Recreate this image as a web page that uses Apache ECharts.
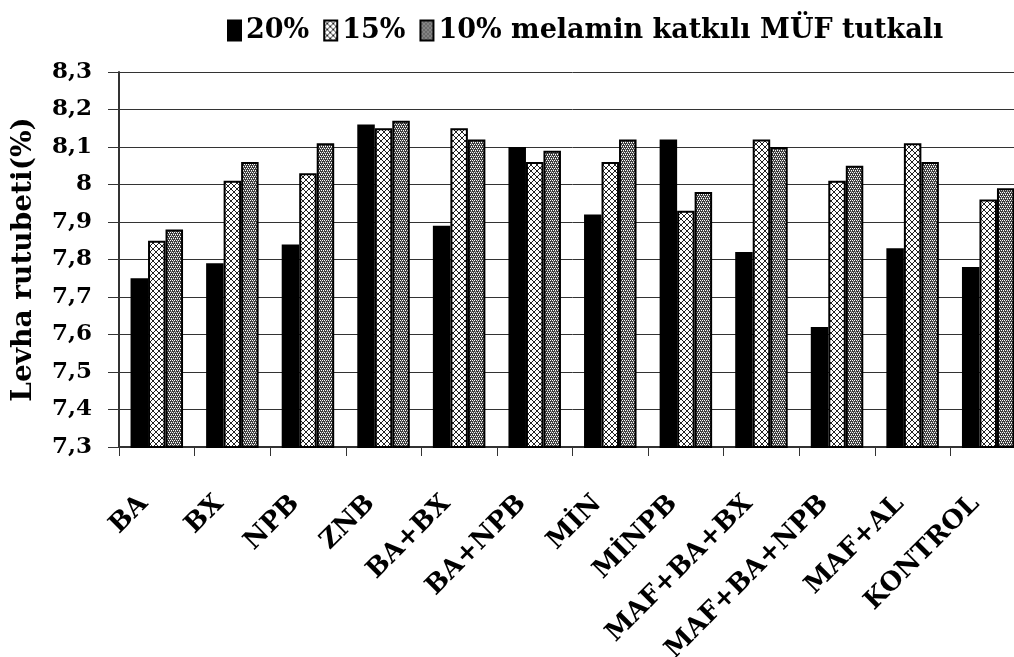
<!DOCTYPE html>
<html>
<head>
<meta charset="utf-8">
<script src="https://cdn.jsdelivr.net/npm/echarts@6/dist/echarts.min.js"></script>
<style>
  html, body { margin: 0; padding: 0; background: #fff; overflow: hidden; }
  /* the plot runs slightly past the right edge, so the frame clips it */
  #frame { width: 1014px; height: 657px; overflow: hidden; position: relative; }
  #chart { position: absolute; left: 0; top: 0; width: 1030px; height: 657px; }
</style>
</head>
<body>
<div id="frame"><div id="chart"></div></div>
<script>
// Board treatments on the category axis
const categories = ['BA', 'BX', 'NPB', 'ZNB', 'BA+BX', 'BA+NPB', 'MİN', 'MİNPB',
  'MAF+BA+BX', 'MAF+BA+NPB', 'MAF+AL', 'KONTROL'];

// Series names
const seriesNames = ['20%', '15%', '10% melamin katkılı MÜF tutkalı'];

// Board moisture content (%) for each melamine level
const values20 = [7.75, 7.79, 7.84, 8.16, 7.89, 8.10, 7.92, 8.12, 7.82, 7.62, 7.83, 7.78];
const values15 = [7.85, 8.01, 8.03, 8.15, 8.15, 8.06, 8.06, 7.93, 8.12, 8.01, 8.11, 7.96];
const values10 = [7.88, 8.06, 8.11, 8.17, 8.12, 8.09, 8.12, 7.98, 8.10, 8.05, 8.06, 7.99];

// Value axis range
const yMin = 7.3;
const yMax = 8.3;
const yStep = 0.1;

const FONT = '"DejaVu Serif", "Liberation Serif", serif';

// Pixel tile patterns used as bar fills
function makeTile(size, bg, draw) {
  const c = document.createElement('canvas');
  c.width = size; c.height = size;
  const g = c.getContext('2d');
  g.fillStyle = bg;
  g.fillRect(0, 0, size, size);
  draw(g);
  return c;
}

// diagonal cross-hatch on white
const hatchTile = makeTile(6, '#ffffff', g => {
  g.fillStyle = '#222';
  for (let i = 0; i < 6; i++) {
    g.fillRect(i, i, 1, 1);
    g.fillRect(5 - i, i, 1, 1);
  }
});

// dense dark dotted fill
const denseTile = makeTile(4, '#3c3c3c', g => {
  g.fillStyle = '#ffffff';
  g.fillRect(0, 0, 1, 1);
  g.fillRect(2, 0, 1, 1);
  g.fillRect(1, 2, 1, 1);
  g.fillRect(3, 2, 1, 1);
  g.fillStyle = '#9a9a9a';
  g.fillRect(1, 1, 1, 1);
  g.fillRect(3, 3, 1, 1);
});

const fills = [
  '#000000',
  { image: hatchTile, repeat: 'repeat' },
  { image: denseTile, repeat: 'repeat' }
];
const seriesValues = [values20, values15, values10];

function fmtTick(v) {
  return Number(v.toFixed(1)).toString().replace('.', ',');
}

const chart = echarts.init(document.getElementById('chart'), null, { renderer: 'canvas' });

chart.setOption({
  animation: false,
  backgroundColor: '#ffffff',
  legend: {
    top: 12,
    left: 222,
    icon: 'rect',
    itemWidth: 13,
    itemHeight: 20,
    itemGap: 14,
    data: seriesNames,
    textStyle: {
      fontFamily: FONT,
      fontWeight: 'bold',
      fontSize: 27,
      color: '#000'
    }
  },
  grid: {
    left: 119,
    top: 72,
    width: 907,
    height: 375,
    containLabel: false,
    outerBoundsMode: 'none'
  },
  xAxis: {
    type: 'category',
    data: categories,
    axisLine: { lineStyle: { color: '#333', width: 2 } },
    axisTick: { show: true, length: 9, alignWithLabel: false, lineStyle: { color: '#333', width: 1 } },
    axisLabel: {
      interval: 0,
      rotate: 45,
      margin: 40,
      padding: [0, 18, 0, 0],
      fontFamily: FONT,
      fontWeight: 'bold',
      fontSize: 26,
      color: '#000'
    },
    splitLine: { show: false }
  },
  yAxis: {
    type: 'value',
    min: yMin,
    max: yMax,
    interval: yStep,
    name: 'Levha rutubeti(%)',
    nameLocation: 'middle',
    nameGap: 81,
    nameTextStyle: {
      fontFamily: FONT,
      fontWeight: 'bold',
      fontSize: 28,
      color: '#000'
    },
    axisLine: { show: true, lineStyle: { color: '#333', width: 2 } },
    axisTick: { show: true, length: 11, lineStyle: { color: '#333', width: 1 } },
    axisLabel: {
      margin: 27,
      formatter: fmtTick,
      fontFamily: FONT,
      fontWeight: 'bold',
      fontSize: 23,
      color: '#000'
    },
    splitLine: { show: true, lineStyle: { color: '#333', width: 1 } }
  },
  series: seriesNames.map((name, i) => ({
    name: name,
    type: 'bar',
    data: seriesValues[i],
    barWidth: 17.5,
    barGap: '0%',
    itemStyle: {
      color: fills[i],
      borderColor: '#000',
      borderWidth: 2
    },
    emphasis: { disabled: true }
  }))
});
</script>
</body>
</html>
